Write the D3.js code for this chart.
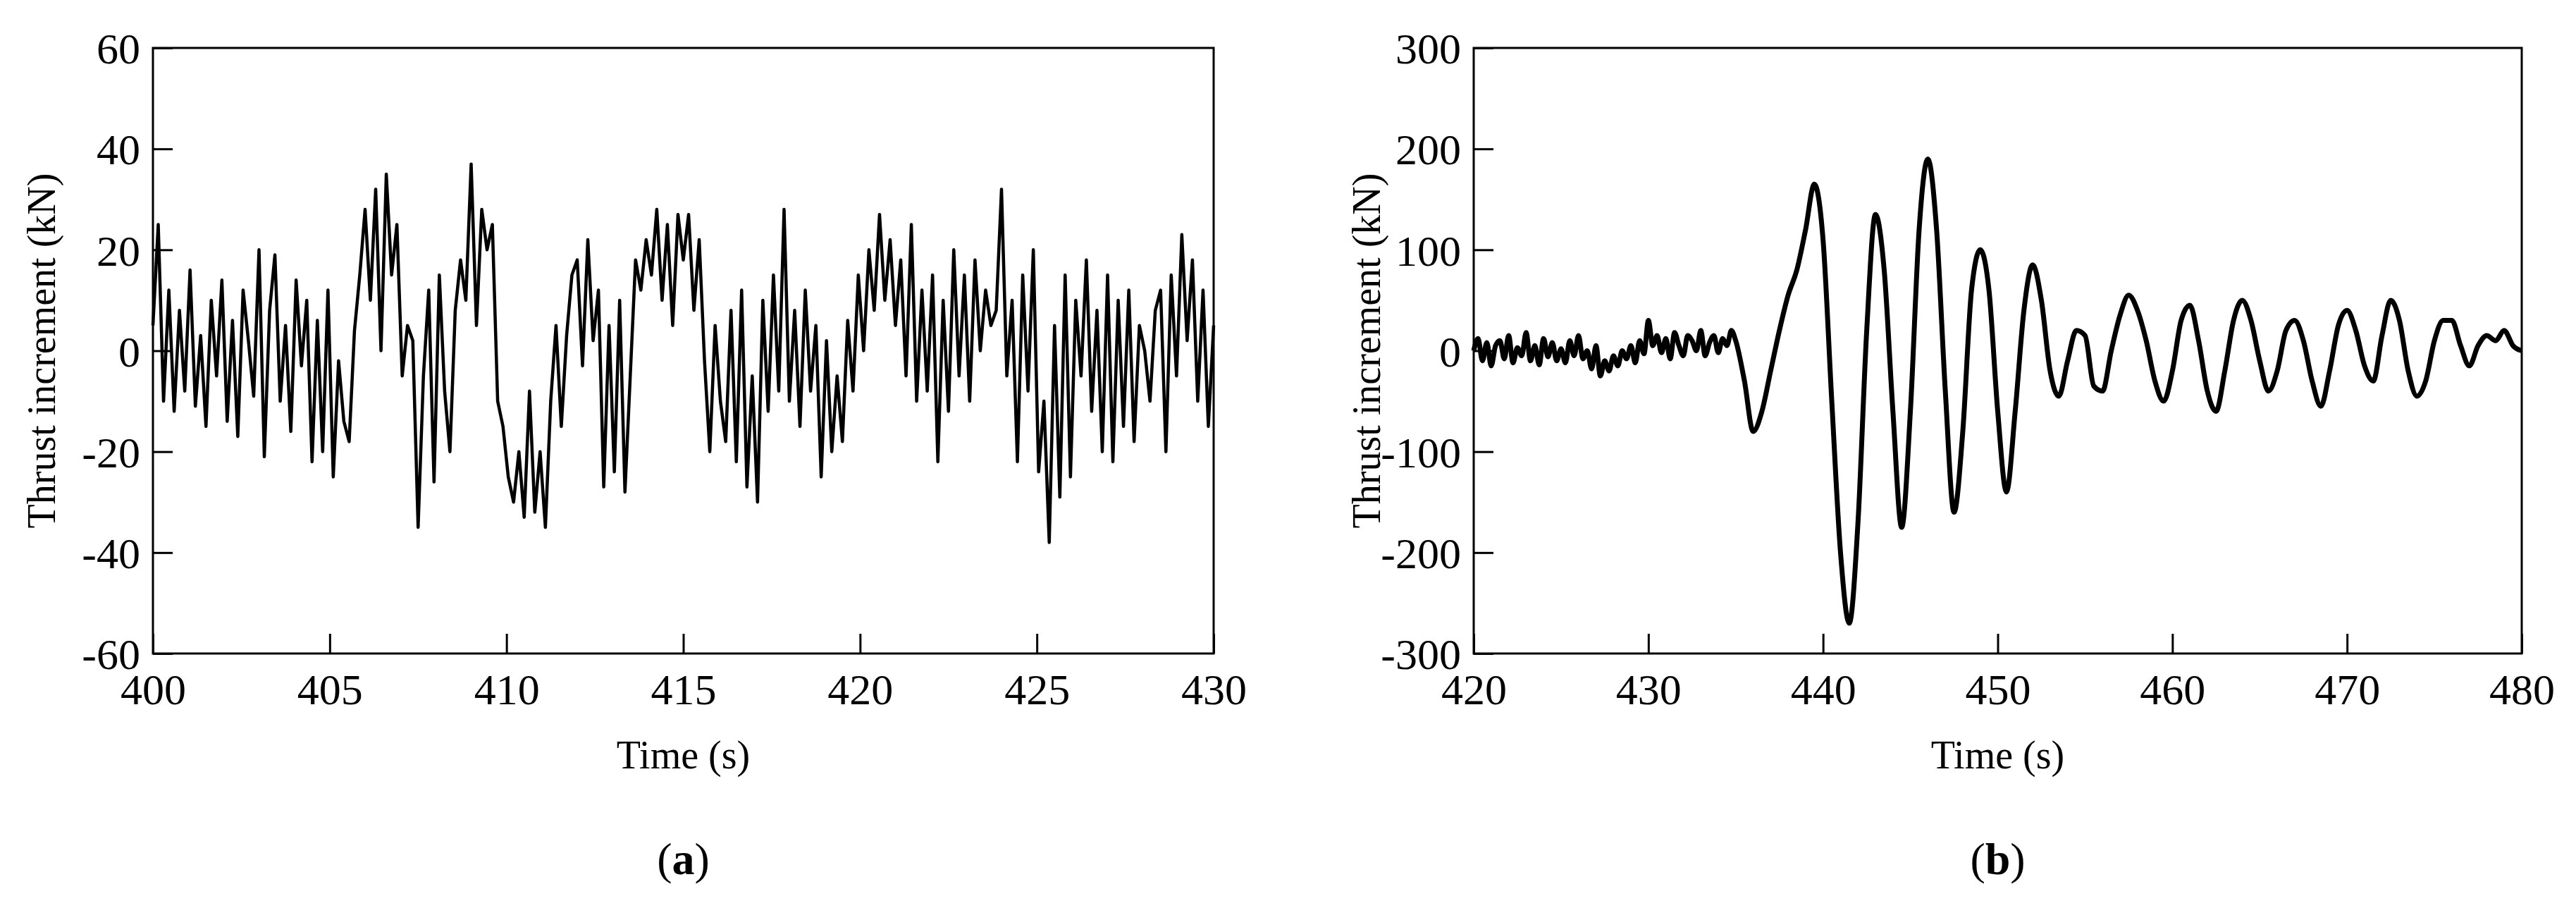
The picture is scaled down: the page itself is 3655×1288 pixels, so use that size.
<!DOCTYPE html>
<html><head><meta charset="utf-8">
<script src="https://cdn.jsdelivr.net/npm/d3@7"></script>
<style>body{margin:0;background:#fff} svg text{font-family:"Liberation Serif","DejaVu Serif",serif}</style></head>
<body><svg id="c" width="3655" height="1288"></svg>
<script>
const aStart = 400, aStep = 0.15;
const aValues = [5,25,-10,12,-12,8,-8,16,-11,3,
-15,10,-5,14,-14,6,-17,12,2,-9,
20,-21,8,19,-10,5,-16,14,-3,10,
-22,6,-20,12,-25,-2,-14,-18,4,15,
28,10,32,0,35,15,25,-5,5,2,
-35,-5,12,-26,15,-8,-20,8,18,10,
37,5,28,20,25,-10,-15,-25,-30,-20,
-33,-8,-32,-20,-35,-10,5,-15,3,15,
18,-3,22,2,12,-27,5,-24,10,-28,
-5,18,12,22,15,28,10,25,5,27,
18,27,8,22,-2,-20,5,-10,-18,8,
-22,12,-27,-5,-30,10,-12,15,-8,28,
-10,8,-15,12,-8,5,-25,2,-20,-5,
-18,6,-8,15,0,20,8,27,10,22,
5,18,-5,25,-10,12,-8,15,-22,10,
-12,20,-5,15,-10,18,0,12,5,8,
32,-5,10,-22,15,-8,20,-24,-10,-38,
5,-29,15,-25,10,-5,18,-12,8,-20,
15,-22,10,-15,12,-18,5,0,-10,8,
12,-20,15,-5,23,2,18,-10,12,-15,
5];
const bNoiseStart = 420, bNoiseStep = 0.25;
const bNoise = [0,12,-10,8,-15,5,10,-8,15,-12,3,-5,18,-10,5,-14,12,-6,8,-10,
2,-12,10,-5,15,-8,0,-18,5,-25,-10,-20,-5,-15,0,-8,5,-12,10,-3,
30,5,15,-2,12,-8,18,5,-5,15,10,0,20,-5,8,15,-2,12,5,20];
const bWaveStart = 435, bWaveStep = 0.5;
const bWave = [10,-30,-80,-60,-20,20,55,80,120,165,110,-50,-200,-270,-170,20,135,80,-60,-175,
-60,120,190,120,-40,-160,-80,60,100,60,-60,-140,-60,40,85,50,-20,-45,-10,20,
15,-35,-40,0,35,55,40,10,-30,-50,-20,30,45,10,-40,-60,-20,30,50,30,
-10,-40,-20,20,30,10,-30,-55,-20,25,40,20,-15,-30,15,50,30,-20,-45,-30,
10,30,30,5,-15,5,15,10,20,5,0];
const aXTicks=[400,405,410,415,420,425,430], aYTicks=[-60,-40,-20,0,20,40,60];
const bXTicks=[420,430,440,450,460,470,480], bYTicks=[-300,-200,-100,0,100,200,300];

const svg=d3.select("#c");
const F='"Liberation Serif", serif';
function panel(L,R,T,B,xd,yd,xt,yt,data,sw,curve,label,titleX){
  const x=d3.scaleLinear().domain(xd).range([L,R]);
  const y=d3.scaleLinear().domain(yd).range([B,T]);
  const g=svg.append("g");
  g.append("path").datum(data).attr("fill","none").attr("stroke","#000").attr("stroke-width",sw)
   .attr("stroke-linejoin","round").attr("d",d3.line().x(d=>x(d[0])).y(d=>y(d[1])).curve(curve));
  const fmt=d=>String(d);
  const ax=g.append("g").attr("transform",`translate(0,${B})`).call(d3.axisBottom(x).tickValues(xt).tickSize(-28).tickPadding(28).tickFormat(fmt));
  const ay=g.append("g").attr("transform",`translate(${L},0)`).call(d3.axisLeft(y).tickValues(yt).tickSize(-28).tickPadding(18).tickFormat(fmt));
  [ax,ay].forEach(a=>{a.select(".domain").remove();a.selectAll("line").attr("stroke","#000").attr("stroke-width",3);
    a.selectAll("text").attr("font-family",F).attr("font-size",62).attr("fill","#000");});
  ay.selectAll("text").attr("dy","0.35em");
  g.append("rect").attr("x",L).attr("y",T).attr("width",R-L).attr("height",B-T).attr("fill","none").attr("stroke","#000").attr("stroke-width",3);
  g.append("text").attr("x",(L+R)/2).attr("y",1090).attr("text-anchor","middle").attr("font-family",F).attr("font-size",56).text("Time (s)");
  g.append("text").attr("transform",`translate(${titleX},${(T+B)/2}) rotate(-90)`).attr("text-anchor","middle").attr("font-family",F).attr("font-size",56).text("Thrust increment (kN)");
  const lt=g.append("text").attr("x",(L+R)/2).attr("y",1240).attr("text-anchor","middle").attr("font-family",F).attr("font-size",64);
  lt.append("tspan").text("(");lt.append("tspan").attr("font-weight","bold").text(label);lt.append("tspan").text(")");
}
const aData=aValues.map((v,i)=>[aStart+i*aStep,v]);
const bData=bNoise.map((v,i)=>[bNoiseStart+i*bNoiseStep,v]).concat(bWave.map((v,i)=>[bWaveStart+i*bWaveStep,v]));
panel(217,1722,68,927,[400,430],[-60,60],aXTicks,aYTicks,aData,4.5,d3.curveLinear,"a",78);
panel(2091,3578,68,927,[420,480],[-300,300],bXTicks,bYTicks,bData,7,d3.curveMonotoneX,"b",1958);
</script></body></html>
